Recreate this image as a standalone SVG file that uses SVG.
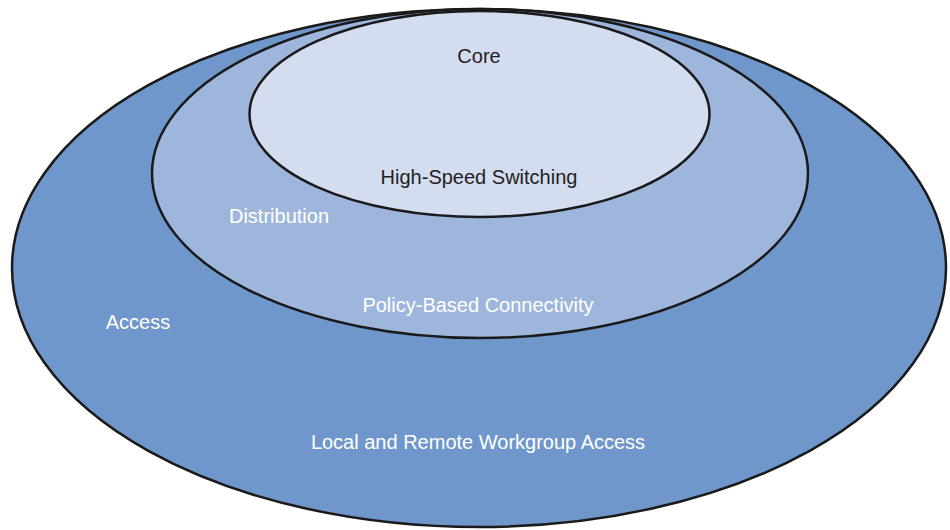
<svg xmlns="http://www.w3.org/2000/svg" width="950" height="530" viewBox="0 0 950 530">
<style>
.e{stroke:#1a1a1a;stroke-width:2.5}
.t{font-family:"Liberation Sans",Arial,sans-serif;font-size:20px;text-anchor:middle}
.w{fill:#ffffff}
.k{fill:#231f20}
</style>
<rect width="950" height="530" fill="#ffffff"/>
<g id="access">
<ellipse class="e" cx="479" cy="268" rx="467" ry="259" fill="#6f97cb"/>
<text class="t w" x="138" y="329">Access</text>
<text class="t w" x="478" y="449">Local and Remote Workgroup Access</text>
</g>
<g id="distribution">
<ellipse class="e" cx="480" cy="173.5" rx="328" ry="164.5" fill="#9fb6dc"/>
<text class="t w" x="279" y="223">Distribution</text>
<text class="t w" x="478" y="312">Policy-Based Connectivity</text>
</g>
<g id="core">
<ellipse class="e" cx="479.5" cy="114" rx="230" ry="103" fill="#d4dcf0"/>
<text class="t k" x="479" y="63">Core</text>
<text class="t k" x="479" y="184">High-Speed Switching</text>
</g>
<g id="connectors"/>
</svg>
